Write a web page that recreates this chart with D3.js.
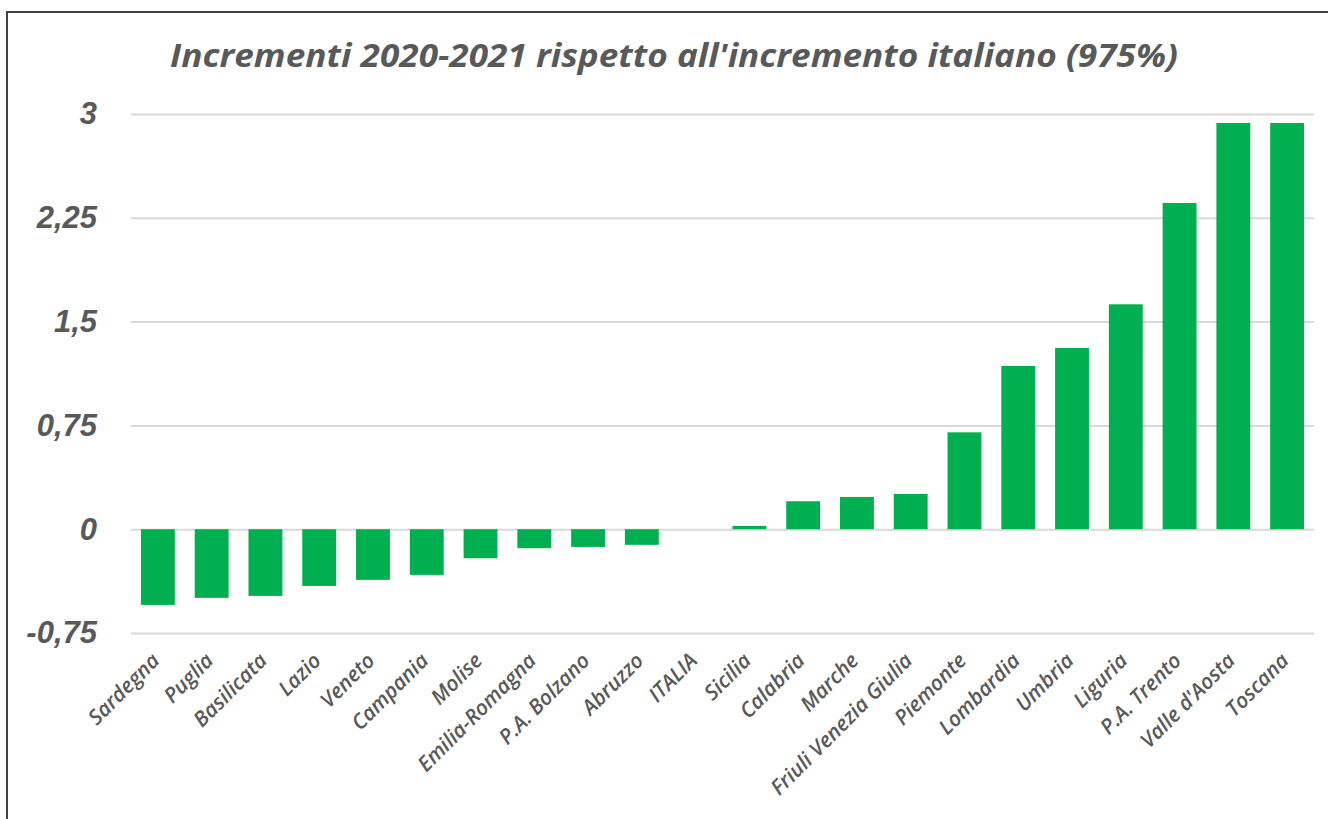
<!DOCTYPE html>
<html>
<head>
<meta charset="utf-8">
<script src="https://cdn.jsdelivr.net/npm/d3@7"></script>
<style>
  html, body { margin: 0; padding: 0; background: #fff; }
  svg { display: block; font-family: "Open Sans", sans-serif; }
</style>
</head>
<body>
<svg id="chart"></svg>
<script>
// dati
const regions = ["Sardegna", "Puglia", "Basilicata", "Lazio", "Veneto", "Campania", "Molise",
  "Emilia-Romagna", "P.A. Bolzano", "Abruzzo", "ITALIA", "Sicilia", "Calabria", "Marche",
  "Friuli Venezia Giulia", "Piemonte", "Lombardia", "Umbria", "Liguria", "P.A. Trento",
  "Valle d'Aosta", "Toscana"];
const values = [-0.547, -0.496, -0.482, -0.41, -0.366, -0.33, -0.21, -0.137, -0.128, -0.113,
  0, 0.024, 0.202, 0.233, 0.255, 0.70, 1.18, 1.31, 1.625, 2.357, 2.935, 2.935];
const yTicks = [-0.75, 0, 0.75, 1.5, 2.25, 3];
const title = "Incrementi 2020-2021 rispetto all'incremento italiano (975%)";

const width = 1328, height = 819;
const data = regions.map((r, i) => ({ name: r, value: values[i] }));

const svg = d3.select("#chart").attr("width", width).attr("height", height);

// cornice
svg.append("rect")
  .attr("x", 7).attr("y", 12)
  .attr("width", width + 20).attr("height", height + 20)
  .attr("fill", "none").attr("stroke", "#404040").attr("stroke-width", 2);

const x = d3.scaleBand()
  .domain(regions)
  .range([131, 1314])
  .paddingInner(0.37)
  .paddingOuter(0.185);

const y = d3.scaleLinear()
  .domain([-0.75, 3])
  .range([633, 114]);

const it = d3.formatLocale({ decimal: ",", thousands: ".", grouping: [3], currency: ["", "€"], minus: "-" });
const fmt = it.format("~g");

// griglia + etichette asse y
const yAxis = svg.append("g")
  .attr("transform", "translate(131,0)")
  .call(d3.axisLeft(y).tickValues(yTicks).tickSize(-(1314 - 131)).tickFormat(fmt).tickPadding(34));
yAxis.select(".domain").remove();
yAxis.selectAll(".tick line").attr("stroke", "#d9d9d9").attr("stroke-width", 2);
yAxis.selectAll(".tick text")
  .attr("fill", "#595959")
  .attr("font-size", 31)
  .attr("font-weight", "bold")
  .attr("font-style", "italic");

// barre
svg.append("g")
  .selectAll("rect")
  .data(data)
  .join("rect")
  .attr("x", d => x(d.name))
  .attr("width", x.bandwidth())
  .attr("y", d => y(Math.max(0, d.value)))
  .attr("height", d => Math.abs(y(d.value) - y(0)))
  .attr("fill", "#00b050");

// etichette asse x
svg.append("g")
  .selectAll("text")
  .data(data)
  .join("text")
  .attr("transform", d => `translate(${x(d.name) + x.bandwidth() / 2 + 3},662) rotate(-45)`)
  .attr("text-anchor", "end")
  .attr("fill", "#595959")
  .attr("font-size", 21)
  .attr("font-weight", 600)
  .attr("font-style", "italic")
  .text(d => d.name);

// titolo
svg.append("text")
  .attr("x", 674).attr("y", 67)
  .attr("text-anchor", "middle")
  .attr("fill", "#595959")
  .attr("font-size", 32)
  .attr("font-weight", "bold")
  .attr("font-style", "italic")
  .attr("textLength", 1008)
  .attr("lengthAdjust", "spacingAndGlyphs")
  .text(title);
</script>
</body>
</html>
